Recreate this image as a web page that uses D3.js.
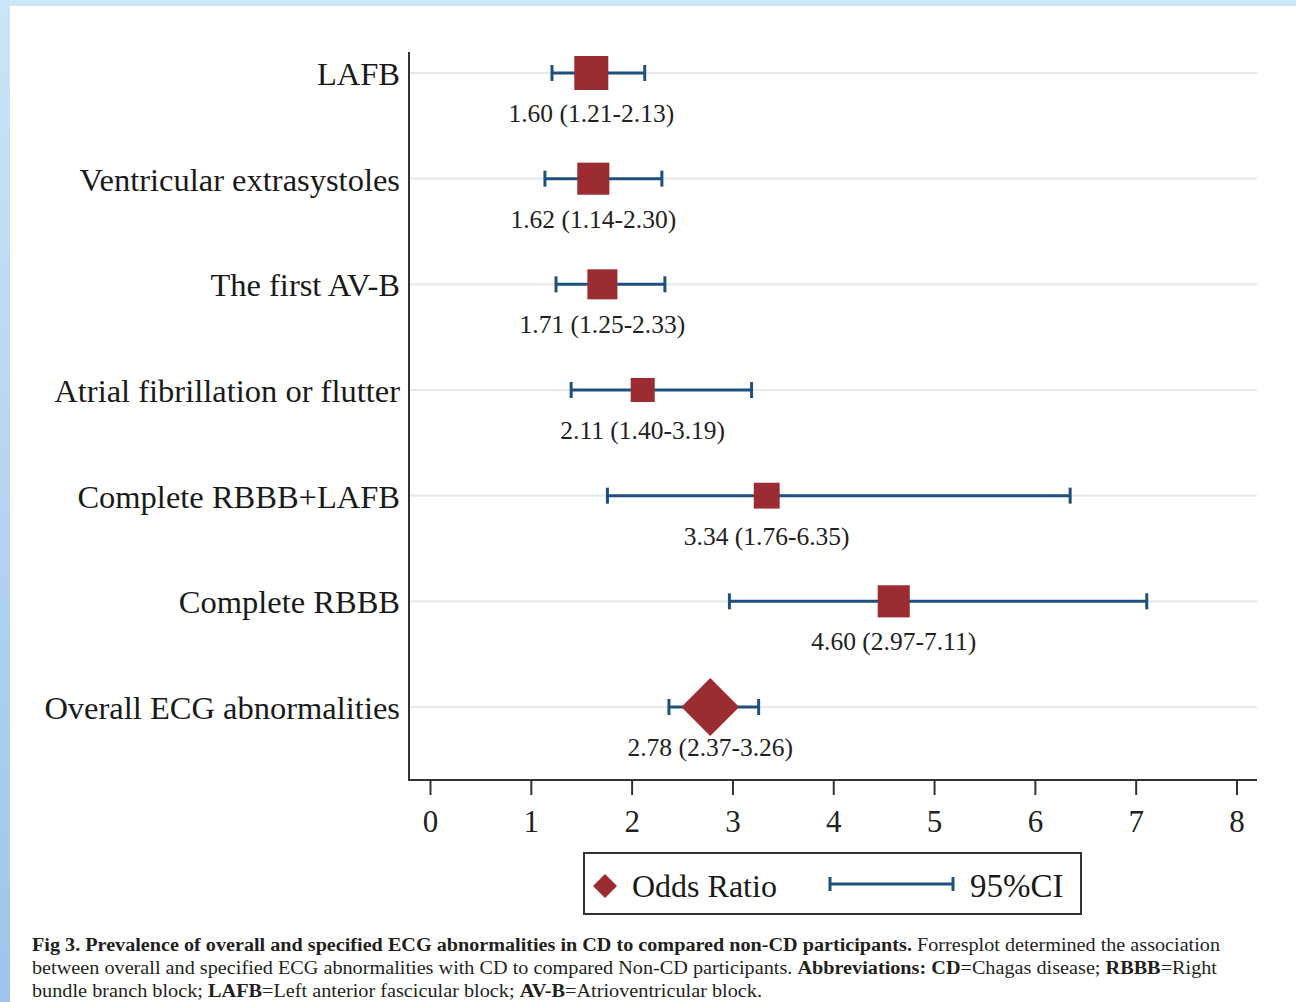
<!DOCTYPE html>
<html>
<head>
<meta charset="utf-8">
<script src="https://cdn.jsdelivr.net/npm/d3@7"></script>
<style>
  html, body { margin: 0; padding: 0; background: #ffffff; }
  svg { display: block; }
</style>
</head>
<body>
<svg id="chart" width="1296" height="1002"></svg>
<script>
// ---------------- DATA ----------------
const categories = [
  "LAFB",
  "Ventricular extrasystoles",
  "The first AV-B",
  "Atrial fibrillation or flutter",
  "Complete RBBB+LAFB",
  "Complete RBBB",
  "Overall ECG abnormalities"
];
const oddsRatio = [1.60, 1.62, 1.71, 2.11, 3.34, 4.60, 2.78];
const ciLow     = [1.21, 1.14, 1.25, 1.40, 1.76, 2.97, 2.37];
const ciHigh    = [2.13, 2.30, 2.33, 3.19, 6.35, 7.11, 3.26];
const weights   = [100, 89, 78, 50, 58, 89, 100];   // relative marker weight
const isOverall = [false, false, false, false, false, false, true];
const xTicks    = [0, 1, 2, 3, 4, 5, 6, 7, 8];
const legendLabels = ["Odds Ratio", "95%CI"];

// ---------------- SETUP ----------------
const svg = d3.select("#chart");
const W = 1296, H = 1002;
const serif = "'Liberation Serif', 'Times New Roman', serif";
const RED = "#9b2d32";
const BLUE = "#1f4f7c";

// background frame
const defs = svg.append("defs");
const lg = defs.append("linearGradient").attr("id", "leftFrame")
  .attr("x1", 0).attr("y1", 0).attr("x2", 0).attr("y2", 1);
lg.append("stop").attr("offset", "0%").attr("stop-color", "#c9e6f6");
lg.append("stop").attr("offset", "100%").attr("stop-color", "#9ec4ec");
svg.append("rect").attr("x", 0).attr("y", 0).attr("width", W).attr("height", H).attr("fill", "#ffffff");
svg.append("rect").attr("x", 0).attr("y", 0).attr("width", W).attr("height", 6).attr("fill", "#cce8f6");
svg.append("rect").attr("x", 0).attr("y", 0).attr("width", 10).attr("height", H).attr("fill", "url(#leftFrame)");

// scales
const x = d3.scaleLinear().domain([0, 8]).range([430, 1236.5]);
const y = d3.scalePoint().domain(categories).range([73, 707]);
const size = d3.scaleSqrt().domain([0, 100]).range([0, 34]);

const plotLeft = 409, plotRight = 1257, axisY = 780, plotTop = 52;

// gridlines
svg.append("g").selectAll("line").data(categories).join("line")
  .attr("x1", plotLeft + 1).attr("x2", plotRight)
  .attr("y1", d => y(d)).attr("y2", d => y(d))
  .attr("stroke", "#e6eaea").attr("stroke-width", 2.2);

// axes lines
svg.append("line").attr("x1", plotLeft).attr("x2", plotLeft)
  .attr("y1", plotTop).attr("y2", axisY + 1)
  .attr("stroke", "#333").attr("stroke-width", 2);
svg.append("line").attr("x1", plotLeft).attr("x2", plotRight)
  .attr("y1", axisY).attr("y2", axisY)
  .attr("stroke", "#333").attr("stroke-width", 2);

// x axis ticks
const xAxis = d3.axisBottom(x).tickValues(xTicks).tickSize(15).tickPadding(9)
  .tickFormat(d3.format("d"));
const gx = svg.append("g").attr("transform", `translate(0,${axisY})`).call(xAxis);
gx.select(".domain").remove();
gx.selectAll(".tick line").attr("stroke", "#333").attr("stroke-width", 2);
gx.selectAll(".tick text").attr("font-family", serif).attr("font-size", 31)
  .attr("fill", "#222").attr("dy", "0.9em");

// category labels
svg.append("g").selectAll("text").data(categories).join("text")
  .attr("x", 400).attr("y", d => y(d) + 12)
  .attr("text-anchor", "end")
  .attr("font-family", serif).attr("font-size", 32.5).attr("fill", "#1a1a1a")
  .text(d => d);

const rows = categories.map((c, i) => ({
  c, or: oddsRatio[i], lo: ciLow[i], hi: ciHigh[i], w: weights[i], overall: isOverall[i]
}));

// CI lines
const ci = svg.append("g").selectAll("g").data(rows).join("g");
ci.append("line")
  .attr("x1", d => x(d.lo)).attr("x2", d => x(d.hi))
  .attr("y1", d => y(d.c)).attr("y2", d => y(d.c))
  .attr("stroke", BLUE).attr("stroke-width", 3);
ci.append("line")
  .attr("x1", d => x(d.lo)).attr("x2", d => x(d.lo))
  .attr("y1", d => y(d.c) - 8).attr("y2", d => y(d.c) + 8)
  .attr("stroke", BLUE).attr("stroke-width", 3);
ci.append("line")
  .attr("x1", d => x(d.hi)).attr("x2", d => x(d.hi))
  .attr("y1", d => y(d.c) - 8).attr("y2", d => y(d.c) + 8)
  .attr("stroke", BLUE).attr("stroke-width", 3);

// markers: squares
svg.append("g").selectAll("rect").data(rows.filter(d => !d.overall)).join("rect")
  .attr("x", d => x(d.or) - size(d.w) / 2)
  .attr("y", d => y(d.c) - size(d.w) / 2)
  .attr("width", d => size(d.w)).attr("height", d => size(d.w))
  .attr("fill", RED);

// overall: diamond (half-diagonal from weight scale)
svg.append("g").selectAll("path").data(rows.filter(d => d.overall)).join("path")
  .attr("transform", d => `translate(${x(d.or)},${y(d.c)})`)
  .attr("d", d => { const r = size(d.w) * 0.85; return `M0,${-r}L${r},0L0,${r}L${-r},0Z`; })
  .attr("fill", RED);

// value labels
const fmt = d3.format(".2f");
svg.append("g").selectAll("text").data(rows).join("text")
  .attr("x", d => x(d.or)).attr("y", d => y(d.c) + 49)
  .attr("text-anchor", "middle")
  .attr("font-family", serif).attr("font-size", 25.5).attr("fill", "#222")
  .text(d => `${fmt(d.or)} (${fmt(d.lo)}-${fmt(d.hi)})`);

// legend
const leg = svg.append("g");
leg.append("rect").attr("x", 584).attr("y", 853).attr("width", 497).attr("height", 61)
  .attr("fill", "#fff").attr("stroke", "#333").attr("stroke-width", 2);
leg.append("path").attr("d", "M605,874L617,886L605,898L593,886Z").attr("fill", RED);
leg.append("text").attr("x", 632).attr("y", 897)
  .attr("font-family", serif).attr("font-size", 32).attr("fill", "#1a1a1a").text(legendLabels[0]);
leg.append("line").attr("x1", 830).attr("x2", 953).attr("y1", 884).attr("y2", 884)
  .attr("stroke", BLUE).attr("stroke-width", 3);
leg.append("line").attr("x1", 830).attr("x2", 830).attr("y1", 877).attr("y2", 891)
  .attr("stroke", BLUE).attr("stroke-width", 3);
leg.append("line").attr("x1", 953).attr("x2", 953).attr("y1", 877).attr("y2", 891)
  .attr("stroke", BLUE).attr("stroke-width", 3);
leg.append("text").attr("x", 970).attr("y", 897)
  .attr("font-family", serif).attr("font-size", 33).attr("fill", "#1a1a1a").text(legendLabels[1]);

// caption
const captionLines = [
  [["Fig 3. Prevalence of overall and specified ECG abnormalities in CD to compared non-CD participants.", true],
   [" Forresplot determined the association", false]],
  [["between overall and specified ECG abnormalities with CD to compared Non-CD participants. ", false],
   ["Abbreviations: CD", true], ["=Chagas disease; ", false], ["RBBB", true], ["=Right", false]],
  [["bundle branch block; ", false], ["LAFB", true], ["=Left anterior fascicular block; ", false],
   ["AV-B", true], ["=Atrioventricular block.", false]]
];
const capWidths = [1188, 1185, 730];
const capY = [951, 974, 997];
captionLines.forEach((line, i) => {
  const t = svg.append("text").attr("x", 32).attr("y", capY[i])
    .attr("font-family", serif).attr("font-size", 18.5).attr("fill", "#231f20")
    .attr("textLength", capWidths[i]).attr("lengthAdjust", "spacingAndGlyphs");
  line.forEach(([s, b]) => {
    t.append("tspan").attr("font-weight", b ? "bold" : "normal").text(s);
  });
});
</script>
</body>
</html>
